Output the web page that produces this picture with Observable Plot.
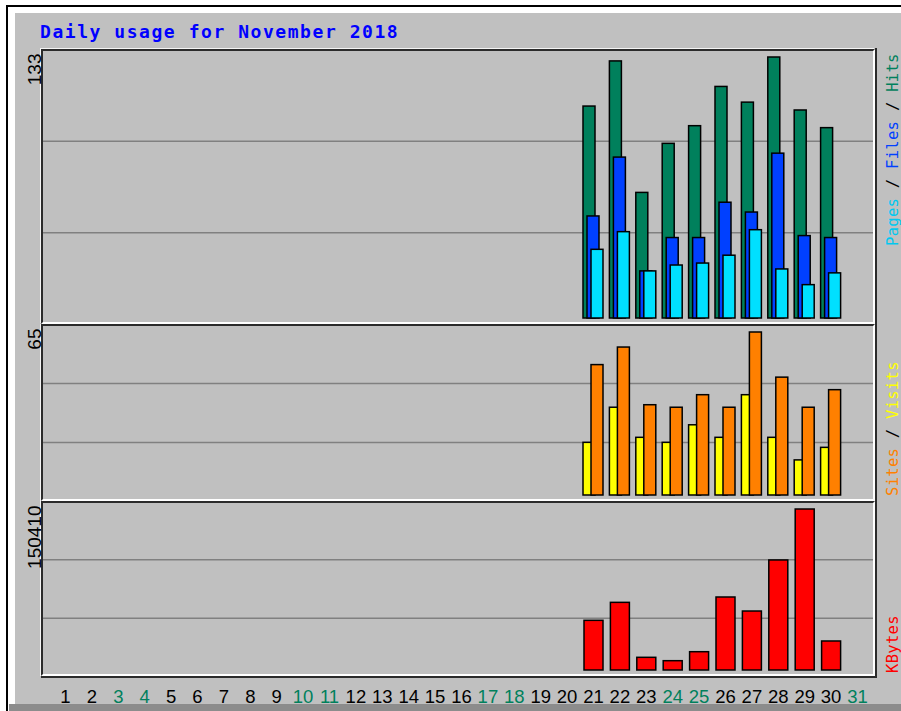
<!DOCTYPE html>
<html><head><meta charset="utf-8">
<script src="https://cdn.jsdelivr.net/npm/d3@7"></script>
<script src="https://cdn.jsdelivr.net/npm/@observablehq/plot@0.6"></script>
<style>
body{margin:0;background:#fff;}
#wrap{position:relative;width:901px;height:711px;overflow:hidden;background:#fff;}
.abs{position:absolute;}
.panel{position:absolute;box-sizing:border-box;background:#c0c0c0;border-top:2px solid #2b2b2b;border-left:2px solid #2b2b2b;border-bottom:2px solid #fff;border-right:2px solid #fff;}
</style></head><body>
<div id="wrap">
  <div class="abs" style="left:6px;top:5px;width:2px;height:706px;background:#000"></div>
  <div class="abs" style="left:6px;top:5px;width:895px;height:2px;background:#000"></div>
  <div class="abs" style="left:15px;top:13px;width:886px;height:691px;background:#c0c0c0"></div>
  <div class="abs" style="left:9px;top:704px;width:892px;height:7px;background:#8c8c8c"></div>
  <div class="panel" style="left:41px;top:49px;width:834px;height:275px;box-shadow:-1px -1px 0 #f4f4f4"></div>
  <div class="panel" style="left:41px;top:324px;width:834px;height:177px;box-shadow:-1px 0 0 #f4f4f4"></div>
  <div class="panel" style="left:41px;top:501px;width:834px;height:175px;box-shadow:-1px 0 0 #f4f4f4"></div>
  <div class="abs" style="left:875px;top:48px;width:2px;height:630px;background:#2b2b2b"></div>
  <div class="abs" style="left:41px;top:676px;width:836px;height:2px;background:#2b2b2b"></div>
  <svg class="abs" width="901" height="711" style="left:0;top:0">
    <text x="40" y="38" font-family="DejaVu Sans Mono" font-weight="bold" font-size="18" letter-spacing="1.55" fill="#0000ff">Daily usage for November 2018</text>
    <g font-family="DejaVu Sans Mono" font-size="15.5" letter-spacing="0.3" style="white-space:pre">
      <text transform="translate(898,246) rotate(-90)"><tspan fill="#00c8f0">Pages</tspan><tspan fill="#000"> / </tspan><tspan fill="#0040ff">Files</tspan><tspan fill="#000"> / </tspan><tspan fill="#00805c">Hits</tspan></text>
      <text transform="translate(898,496) rotate(-90)"><tspan fill="#ff8000">Sites</tspan><tspan fill="#000"> / </tspan><tspan fill="#ffff00">Visits</tspan></text>
      <text transform="translate(898,673) rotate(-90)"><tspan fill="#ff0000">KBytes</tspan></text>
    </g>
  </svg>
  <div id="p1" class="abs" style="left:0;top:49px"></div>
  <div id="p2" class="abs" style="left:0;top:324px"></div>
  <div id="p3" class="abs" style="left:0;top:501px"></div>
</div>
<script>
// ---- data (November 2018, days 1..31) ----
const days = [1,2,3,4,5,6,7,8,9,10,11,12,13,14,15,16,17,18,19,20,21,22,23,24,25,26,27,28,29,30,31];
const weekendDays = [3,4,10,11,17,18,24,25,31];
const hits   = [0,0,0,0,0,0,0,0,0,0,0,0,0,0,0,0,0,0,0,0,108,131,64,89,98,118,110,133,106,97,0];
const files  = [0,0,0,0,0,0,0,0,0,0,0,0,0,0,0,0,0,0,0,0,52,82,24,41,41,59,54,84,42,41,0];
const pages  = [0,0,0,0,0,0,0,0,0,0,0,0,0,0,0,0,0,0,0,0,35,44,24,27,28,32,45,25,17,23,0];
const visits = [0,0,0,0,0,0,0,0,0,0,0,0,0,0,0,0,0,0,0,0,52,59,36,35,40,35,65,47,35,42,0];
const sites  = [0,0,0,0,0,0,0,0,0,0,0,0,0,0,0,0,0,0,0,0,21,35,23,21,28,23,40,23,14,19,0];
const kbytes = [0,0,0,0,0,0,0,0,0,0,0,0,0,0,0,0,0,0,0,0,46400,63200,11850,8700,17100,68200,55100,102800,150410,27100,0];

const C = {hits:"#00805c", files:"#0040ff", pages:"#00e0ff", sites:"#ffff00", visits:"#ff8000", kbytes:"#ff0000"};
const rows = days.map((d,i)=>({day:d, hits:hits[i], files:files[i], pages:pages[i], visits:visits[i], sites:sites[i], kbytes:kbytes[i]}));

const W = 901;
const xScale = {type:"band", domain: days, range:[51.8, 870.2], padding:0, round:false, axis:null};

function yFor(max, h, padB, padT){
  const ppu = (h - padB - padT)/max;
  const lo = -padB/ppu, hi = max + padT/ppu;
  return {lo, hi, scale:{domain:[lo,hi], range:[h,0], axis:null}, grid:[lo+(hi-lo)/3, lo+2*(hi-lo)/3]};
}
const barStyle = {stroke:"#000", strokeWidth:1.5};
const maxLabel = (v)=>Plot.text([v], {y:d=>d, text:d=>String(d), frameAnchor:"left", dx:-9, dy:-4, rotate:-90, textAnchor:"end", lineAnchor:"middle", fontSize:19, fontFamily:"Liberation Sans", fill:"#000"});
const gridRule = (g)=>Plot.ruleY(g, {stroke:"#808080", strokeWidth:1.5});

function panel(h, max, marks, extra={}){
  const y = yFor(max, h, 6, 8);
  return Plot.plot({
    width:W, height:h + (extra.marginBottom||0),
    marginLeft:43, marginRight:28, marginTop:0, marginBottom:extra.marginBottom||0,
    x:xScale, y:y.scale,
    style:{background:"transparent", overflow:"visible"},
    marks:[gridRule(y.grid), maxLabel(max), ...marks]
  });
}

const nz = k => rows.filter(r=>r[k]>0);

const p1 = panel(275, d3.max(hits), [
  Plot.barY(nz("hits"),  {x:"day", y:"hits",  fill:C.hits,  ...barStyle, insetLeft:3.2,  insetRight:11.2}),
  Plot.barY(nz("files"), {x:"day", y:"files", fill:C.files, ...barStyle, insetLeft:7.2,  insetRight:7.2}),
  Plot.barY(nz("pages"), {x:"day", y:"pages", fill:C.pages, ...barStyle, insetLeft:11.2, insetRight:3.2})
]);
const p2 = panel(177, d3.max(visits), [
  Plot.barY(nz("sites"),  {x:"day", y:"sites",  fill:C.sites,  ...barStyle, insetLeft:3.2,  insetRight:11.2}),
  Plot.barY(nz("visits"), {x:"day", y:"visits", fill:C.visits, ...barStyle, insetLeft:11.2, insetRight:3.2})
]);
const p3 = panel(175, d3.max(kbytes), [
  Plot.barY(nz("kbytes"), {x:"day", y:"kbytes", fill:C.kbytes, ...barStyle, insetLeft:4.2, insetRight:3.2}),
  Plot.text(days, {x:d=>d, text:d=>String(d), frameAnchor:"bottom", lineAnchor:"bottom", dy:26, fontSize:18.5, fontFamily:"Liberation Sans", fill:d=>weekendDays.includes(d)?"#00805c":"#000"})
], {marginBottom:30});

document.getElementById("p1").appendChild(p1);
document.getElementById("p2").appendChild(p2);
document.getElementById("p3").appendChild(p3);
</script>
</body></html>
